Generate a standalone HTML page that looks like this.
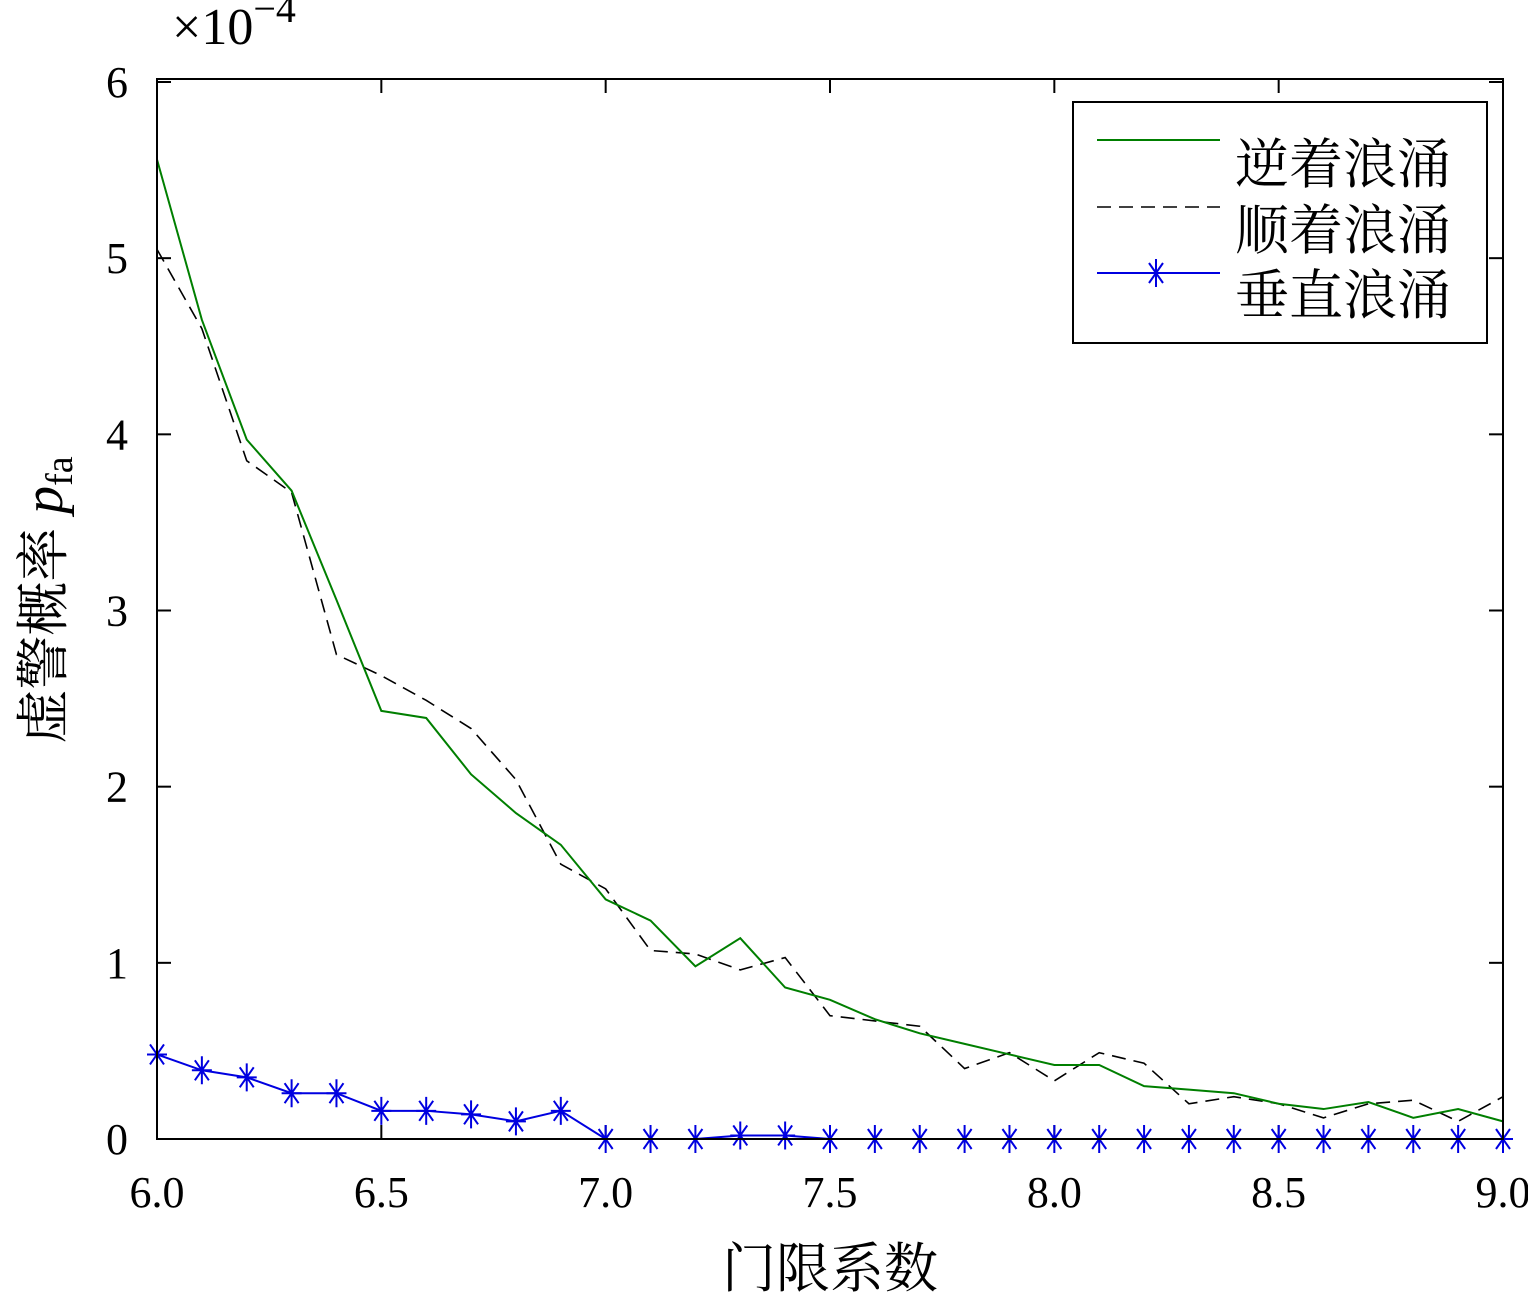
<!DOCTYPE html>
<html><head><meta charset="utf-8"><style>
html,body{margin:0;padding:0;background:#fff;}
svg{display:block;}
text{font-family:"Liberation Serif","Noto Serif CJK SC",serif;fill:#000;}
</style></head><body>
<svg id="chart" width="1528" height="1293" viewBox="0 0 1528 1293" xmlns="http://www.w3.org/2000/svg">
<g id="grid"></g>
<g id="series"></g>
<rect x="157" y="79" width="1346" height="1060" fill="none" stroke="#000" stroke-width="2"/>
<text x="172" y="44" font-size="52">×10<tspan dy="-22" font-size="40">−4</tspan></text>
<text x="830" y="1287" font-size="54" text-anchor="middle" font-family="'Noto Serif CJK SC',serif">门限系数</text>
<text transform="translate(62,600) rotate(-90)" font-size="54" text-anchor="middle"><tspan font-family="'Noto Serif CJK SC',serif">虚警概率 </tspan><tspan font-style="italic" font-size="56">p</tspan><tspan font-size="38" dy="10">fa</tspan></text>
<g>
<rect x="1073" y="102" width="414" height="241" fill="#fff" stroke="#000" stroke-width="2"/>
<line x1="1097" y1="140" x2="1220" y2="140" stroke="#007f00" stroke-width="2"/>
<text x="1235" y="183" font-size="54" font-family="'Noto Serif CJK SC',serif">逆着浪涌</text>
<line x1="1097" y1="207" x2="1220" y2="207" stroke="#000" stroke-width="1.5" stroke-dasharray="14,8"/>
<text x="1235" y="249" font-size="54" font-family="'Noto Serif CJK SC',serif">顺着浪涌</text>
<line x1="1097" y1="273" x2="1220" y2="273" stroke="#0000e0" stroke-width="2"/>
<path d="M1146 273h20M1156 259v28M1149 263l14 20M1163 263l-14 20" stroke="#0000e0" stroke-width="2"/>
<text x="1235" y="314" font-size="54" font-family="'Noto Serif CJK SC',serif">垂直浪涌</text>
</g>
</svg>
<script>
const xs = [6.0,6.1,6.2,6.3,6.4,6.5,6.6,6.7,6.8,6.9,7.0,7.1,7.2,7.3,7.4,7.5,7.6,7.7,7.8,7.9,8.0,8.1,8.2,8.3,8.4,8.5,8.6,8.7,8.8,8.9,9.0];
const against = [5.56,4.65,3.97,3.68,3.06,2.43,2.39,2.07,1.85,1.67,1.36,1.24,0.98,1.14,0.86,0.79,0.68,0.60,0.54,0.48,0.42,0.42,0.30,0.28,0.26,0.20,0.17,0.21,0.12,0.17,0.10];
const withSurge = [5.05,4.60,3.85,3.67,2.75,2.63,2.49,2.33,2.04,1.56,1.42,1.07,1.05,0.96,1.03,0.70,0.67,0.64,0.40,0.49,0.33,0.49,0.43,0.20,0.24,0.20,0.12,0.20,0.22,0.10,0.24];
const perpendicular = [0.48,0.39,0.35,0.26,0.26,0.16,0.16,0.14,0.10,0.16,0,0,0,0.02,0.02,0,0,0,0,0,0,0,0,0,0,0,0,0,0,0,0];
const xTicks = [6.0,6.5,7.0,7.5,8.0,8.5,9.0];
const xTickLabels = ["6.0","6.5","7.0","7.5","8.0","8.5","9.0"];
const yTicks = [0,1,2,3,4,5,6];
const NS="http://www.w3.org/2000/svg";
const X0=157,X1=1503,Y0=1139,Y1=79;
const sx=v=>X0+(v-6)/(3)*(X1-X0);
const sy=v=>Y0-(v/6)*(Y0-82);
const grid=document.getElementById('grid'), ser=document.getElementById('series');
function mk(tag,attrs,parent){const e=document.createElementNS(NS,tag);for(const k in attrs)e.setAttribute(k,attrs[k]);parent.appendChild(e);return e;}
xTicks.forEach((t,i)=>{
  const x=sx(t);
  const a=mk('line',{x1:x,y1:Y0,x2:x,y2:Y0-14,stroke:'#000','stroke-width':2},grid);
  
  
  const b=mk('line',{x1:x,y1:Y1,x2:x,y2:Y1+14,stroke:'#000','stroke-width':2},grid);
  
  
  const tx=mk('text',{x:x,y:1207,'font-size':44,'text-anchor':'middle'},grid);
  tx.textContent=xTickLabels[i];
  
  
});
yTicks.forEach(t=>{
  const y=sy(t);
  const a=mk('line',{x1:X0,y1:y,x2:X0+14,y2:y,stroke:'#000','stroke-width':2},grid);
  
  
  const b=mk('line',{x1:X1,y1:y,x2:X1-14,y2:y,stroke:'#000','stroke-width':2},grid);
  
  
  const tx=mk('text',{x:128,y:y+15,'font-size':44,'text-anchor':'end'},grid);
  tx.textContent=String(t);
  
  
});
function pts(arr){return arr.map((v,i)=>sx(xs[i])+','+sy(v)).join(' ');}
const l1=mk('polyline',{points:pts(withSurge),fill:'none',stroke:'#000','stroke-width':1.6,'stroke-dasharray':'14,8'},ser);


const l2=mk('polyline',{points:pts(against),fill:'none',stroke:'#007f00','stroke-width':2},ser);


const l3=mk('polyline',{points:pts(perpendicular),fill:'none',stroke:'#0000e0','stroke-width':2},ser);


perpendicular.forEach((v,i)=>{
  const x=sx(xs[i]),y=sy(v);
  const m=mk('path',{d:`M${x-10} ${y}h20M${x} ${y-14}v28M${x-7} ${y-10}l14 20M${x+7} ${y-10}l-14 20`,stroke:'#0000e0','stroke-width':2,fill:'none'},ser);
  
  
});
</script>
</body></html>
